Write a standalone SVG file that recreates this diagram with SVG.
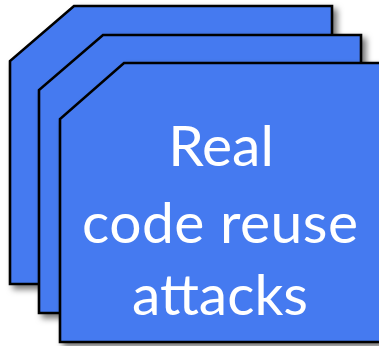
<svg xmlns="http://www.w3.org/2000/svg" width="379" height="346" viewBox="0 0 379 346">
<defs>
<filter id="sh" x="-10%" y="-10%" width="130%" height="130%">
<feDropShadow dx="4" dy="4" stdDeviation="3" flood-color="#000" flood-opacity="0.55"/>
</filter>
</defs>
<style>
.card{fill:#457AF0;stroke:#000;stroke-width:2.6;stroke-linejoin:miter;filter:url(#sh)}
.t{fill:#fff;font-family:Lato,"Open Sans","Liberation Sans",sans-serif;font-size:57px;text-anchor:middle}
</style>
<g id="card1"><path class="card" d="M74,6 H332 V284 H10 V61 Z"/></g>
<g id="card2"><path class="card" d="M103,35 H361 V313 H39 V90 Z"/></g>
<g id="card3">
<path class="card" d="M124,63 H392 V342 H60 V119 Z"/>
<text class="t" x="221" y="166">Real</text>
<text class="t" x="220" y="243" textLength="276" lengthAdjust="spacing">code reuse</text>
<text class="t" x="220" y="315">attacks</text>
</g>
<g id="connectors"/>
</svg>
